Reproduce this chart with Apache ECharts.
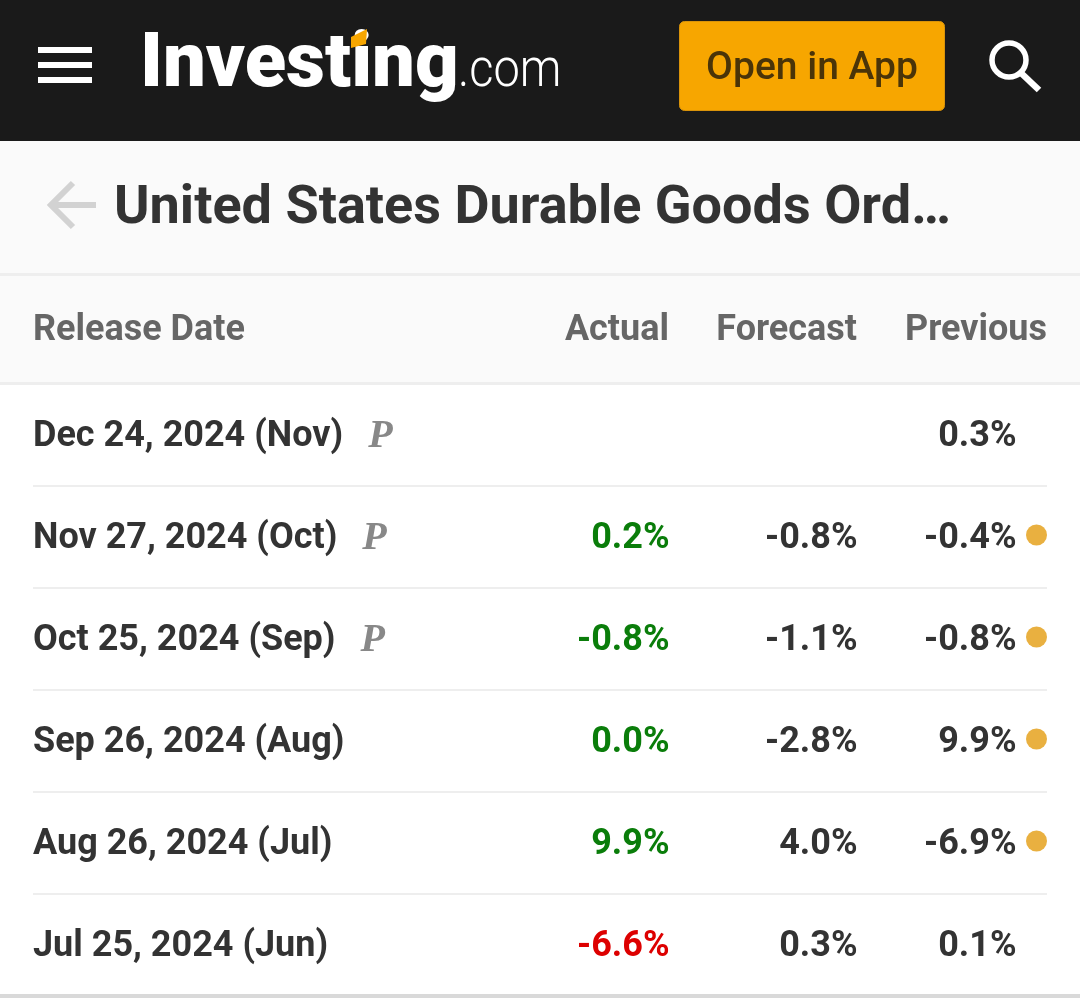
<!DOCTYPE html>
<html>
<head>
<meta charset="utf-8">
<style>
html, body { margin: 0; padding: 0; background: #fff; }
#table { width: 1080px; height: 998px; }
</style>
<script src="https://cdn.jsdelivr.net/npm/echarts@6/dist/echarts.min.js"></script>
</head>
<body>
<div id="table"></div>
<script>
var title = 'United States Durable Goods Ord…';
var headers = ['Release Date', 'Actual', 'Forecast', 'Previous'];
var releaseDates = ['Dec 24, 2024 (Nov)', 'Nov 27, 2024 (Oct)', 'Oct 25, 2024 (Sep)', 'Sep 26, 2024 (Aug)', 'Aug 26, 2024 (Jul)', 'Jul 25, 2024 (Jun)'];
var preliminary = [true, true, true, false, false, false];
var actual = ['', '0.2%', '-0.8%', '0.0%', '9.9%', '-6.6%'];
var actualBeat = [null, true, true, true, true, false];
var forecast = ['', '-0.8%', '-1.1%', '-2.8%', '4.0%', '0.3%'];
var previous = ['0.3%', '-0.4%', '-0.8%', '9.9%', '-6.9%', '0.1%'];
var revised = [false, true, true, true, true, false];

// column anchors, px from the left edge of the grid
var COL_DATE = 0, COL_ACTUAL = 637, COL_FORECAST = 825, COL_PREVIOUS = 984, COL_DOT = 1003.5;
var FONT = 'Roboto';
var DARK = '#333333';
var CELL_SIZE = 36;
var CELL_WEIGHT = 700;

var chart = echarts.init(document.getElementById('table'));

function textSeries(values, x, pos, color) {
  return {
    type: 'scatter',
    symbolSize: 1,
    itemStyle: { color: 'transparent', opacity: 1 },
    silent: true,
    data: values.map(function (v, i) {
      return {
        value: [x, releaseDates[i]],
        label: { formatter: v, color: typeof color === 'function' ? color(i) : color }
      };
    }),
    label: {
      show: true,
      position: pos,
      distance: 0,
      offset: [0, 2],
      fontFamily: FONT,
      fontWeight: CELL_WEIGHT,
      fontSize: CELL_SIZE
    }
  };
}

function headerText(text, x, align) {
  return {
    type: 'text',
    silent: true,
    style: { text: text, x: x, y: 331, align: align, verticalAlign: 'middle', fill: '#666666', font: CELL_WEIGHT + ' ' + CELL_SIZE + 'px ' + FONT }
  };
}

var option = {
  animation: false,
  backgroundColor: '#ffffff',
  grid: { left: 33, width: 1014, top: 384, height: 612, containLabel: false },
  xAxis: { type: 'value', min: 0, max: 1014, show: false },
  yAxis: {
    type: 'category',
    inverse: true,
    data: releaseDates,
    axisLine: { show: false },
    axisTick: { show: false },
    axisLabel: { show: false },
    splitLine: { show: true, showMinLine: false, showMaxLine: false, lineStyle: { color: '#eeeeee', width: 2 } }
  },
  graphic: { elements: [
    { type: 'rect', silent: true, z: -1, shape: { x: 0, y: 141, width: 1080, height: 243 }, style: { fill: '#fafafa' } },
    { type: 'rect', silent: true, shape: { x: 0, y: 0, width: 1080, height: 141 }, style: { fill: '#1a1a1a' } },
    { type: 'rect', silent: true, shape: { x: 38, y: 47, width: 54, height: 6 }, style: { fill: '#ffffff' } },
    { type: 'rect', silent: true, shape: { x: 38, y: 62, width: 54, height: 6 }, style: { fill: '#ffffff' } },
    { type: 'rect', silent: true, shape: { x: 38, y: 77, width: 54, height: 6 }, style: { fill: '#ffffff' } },
    // logo
    { type: 'text', silent: true, x: 140, y: 67, scaleX: 1, scaleY: 1, style: { text: 'Investing', x: 0, y: 0, align: 'left', verticalAlign: 'middle', fill: '#ffffff', font: '900 76px ' + FONT } },
    { type: 'polygon', silent: true, shape: { points: [[351, 37], [367, 29], [366, 44], [351, 48]] }, style: { fill: '#f7a600' } },
    { type: 'text', silent: true, x: 458, y: 72, scaleX: 0.87, style: { text: '.com', x: 0, y: 0, align: 'left', verticalAlign: 'middle', fill: '#ffffff', font: '300 54px ' + FONT } },
    // app button
    { type: 'rect', silent: true, shape: { x: 679.5, y: 21.5, width: 265, height: 89, r: 5 }, style: { fill: '#f7a600', stroke: '#d9930a', lineWidth: 1 } },
    { type: 'text', silent: true, style: { text: 'Open in App', x: 812, y: 69, align: 'center', verticalAlign: 'middle', fill: '#4a3408', font: '500 39px ' + FONT } },
    // search icon
    { type: 'circle', silent: true, shape: { cx: 1009, cy: 60, r: 17 }, style: { fill: 'none', stroke: '#ffffff', lineWidth: 5.5 } },
    { type: 'line', silent: true, shape: { x1: 1021, y1: 73, x2: 1039, y2: 90 }, style: { stroke: '#ffffff', lineWidth: 6.5 } },
    // back arrow and title
    { type: 'polyline', silent: true, shape: { points: [[96, 205], [51, 205]] }, style: { stroke: '#d2d2d2', lineWidth: 6, fill: 'none' } },
    { type: 'polyline', silent: true, shape: { points: [[73, 183], [51, 205], [73, 227]] }, style: { stroke: '#d2d2d2', lineWidth: 6, fill: 'none' } },
    { type: 'text', silent: true, style: { text: title, x: 114, y: 209, align: 'left', verticalAlign: 'middle', fill: DARK, font: '700 54px ' + FONT } },
    // header rules
    { type: 'rect', silent: true, shape: { x: 0, y: 273, width: 1080, height: 3 }, style: { fill: '#eeeeee' } },
    { type: 'rect', silent: true, shape: { x: 0, y: 382, width: 1080, height: 3 }, style: { fill: '#eeeeee' } },
    { type: 'rect', silent: true, shape: { x: 0, y: 994, width: 1080, height: 4 }, style: { fill: '#d9d9d9' } },
    headerText(headers[0], 33, 'left'),
    headerText(headers[1], 669, 'right'),
    headerText(headers[2], 857, 'right'),
    headerText(headers[3], 1047, 'right')
  ] },
  series: [
    {
      type: 'scatter',
      symbolSize: 1,
      itemStyle: { color: 'transparent', opacity: 1 },
      silent: true,
      data: releaseDates.map(function (d, i) {
        return {
          value: [COL_DATE, d],
          label: { formatter: preliminary[i] ? '{d|' + d + '}{p|P}' : '{d|' + d + '}' }
        };
      }),
      label: {
        show: true,
        position: 'right',
        distance: 0,
        offset: [-0.5, 2],
        rich: {
          d: { fontFamily: FONT, fontWeight: CELL_WEIGHT, fontSize: CELL_SIZE, color: DARK },
          p: { fontFamily: 'Liberation Serif', fontWeight: 'bold', fontStyle: 'italic', fontSize: 40, color: '#888888', padding: [0, 0, 0, 25] }
        }
      }
    },
    textSeries(actual, COL_ACTUAL, 'left', function (i) { return actualBeat[i] === false ? '#dd0000' : '#0a7d0a'; }),
    textSeries(forecast, COL_FORECAST, 'left', DARK),
    textSeries(previous, COL_PREVIOUS, 'left', DARK),
    {
      type: 'scatter',
      symbol: 'circle',
      symbolSize: 21,
      symbolOffset: [0, -2],
      silent: true,
      itemStyle: { color: '#e9b040', opacity: 1 },
      data: releaseDates.filter(function (d, i) { return revised[i]; }).map(function (d) { return [COL_DOT, d]; })
    }
  ]
};
chart.setOption(option);
</script>
</body>
</html>
